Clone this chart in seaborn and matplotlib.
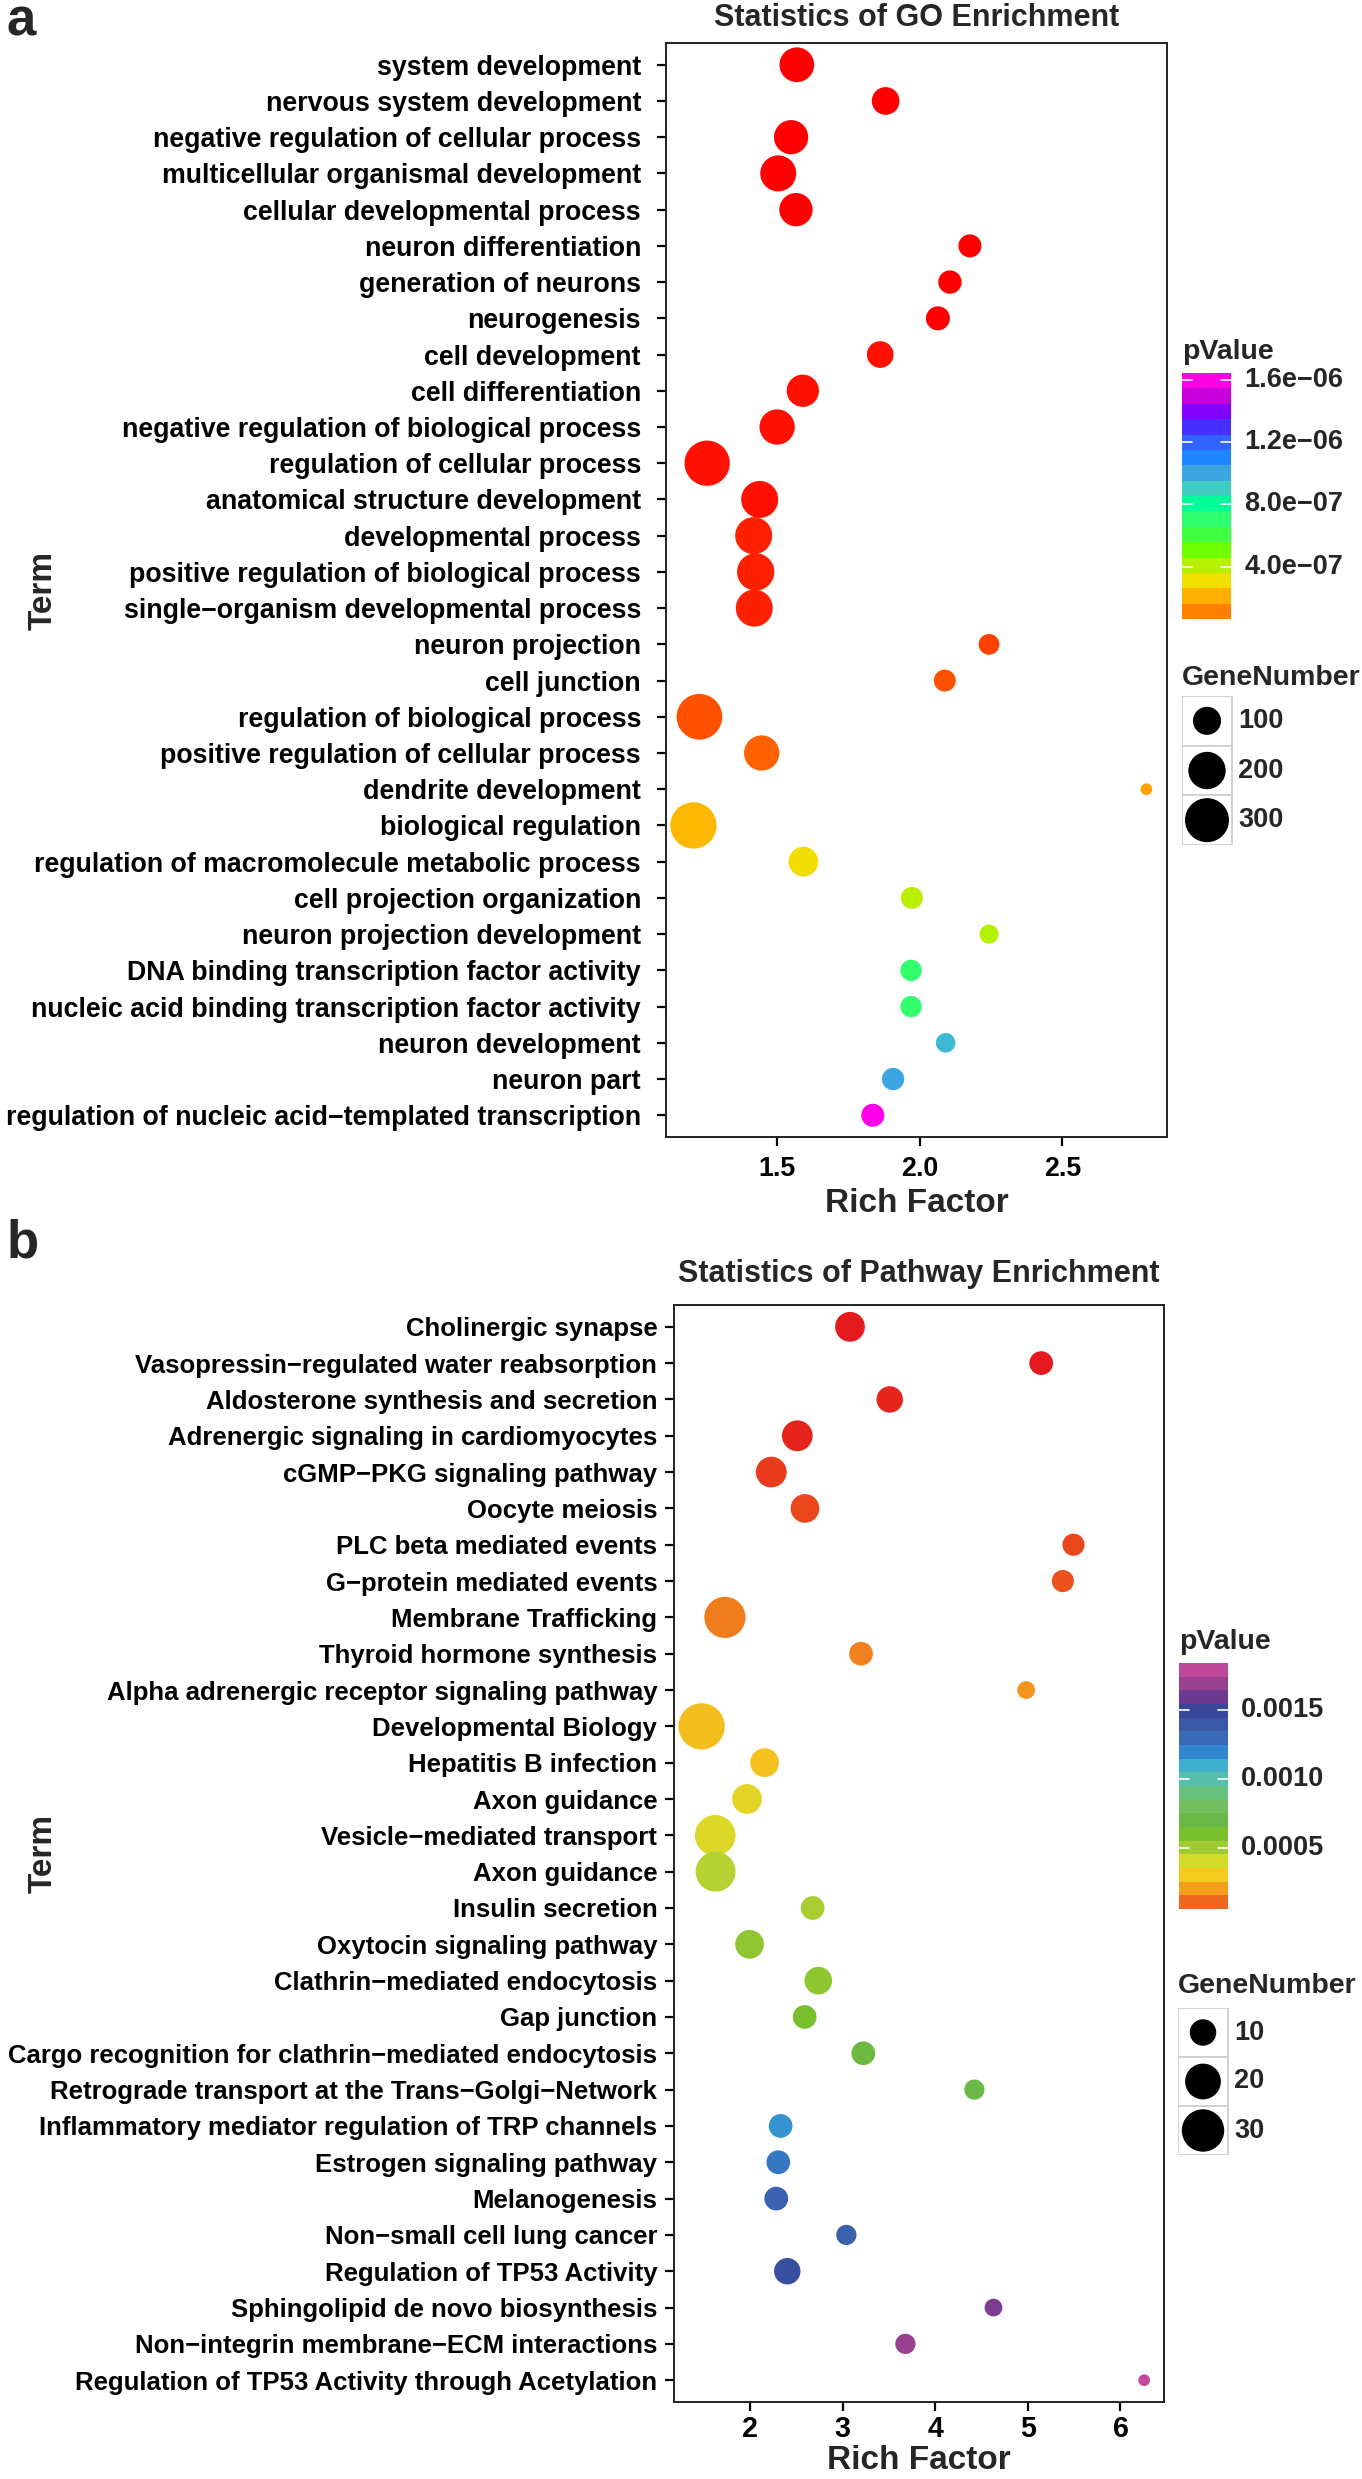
import numpy as np
import pandas as pd
import matplotlib
matplotlib.use("Agg")
import matplotlib.pyplot as plt
import seaborn as sns
from matplotlib.colors import LinearSegmentedColormap
from matplotlib.patches import Rectangle

# GO enrichment (panel a), top to bottom
go_terms = ["system development", "nervous system development",
            "negative regulation of cellular process", "multicellular organismal development",
            "cellular developmental process", "neuron differentiation", "generation of neurons",
            "neurogenesis", "cell development", "cell differentiation",
            "negative regulation of biological process", "regulation of cellular process",
            "anatomical structure development", "developmental process",
            "positive regulation of biological process", "single−organism developmental process",
            "neuron projection", "cell junction", "regulation of biological process",
            "positive regulation of cellular process", "dendrite development",
            "biological regulation", "regulation of macromolecule metabolic process",
            "cell projection organization", "neuron projection development",
            "DNA binding transcription factor activity",
            "nucleic acid binding transcription factor activity", "neuron development",
            "neuron part", "regulation of nucleic acid−templated transcription"]
go_rich = [1.570, 1.881, 1.550, 1.505, 1.567, 2.176, 2.106, 2.064, 1.862, 1.591,
           1.501, 1.256, 1.440, 1.419, 1.426, 1.421, 2.243, 2.088, 1.229, 1.447,
           2.794, 1.208, 1.593, 1.973, 2.243, 1.970, 1.970, 2.091, 1.907, 1.836]
go_genes = [167, 97, 162, 183, 151, 64, 66, 70, 89, 140, 174, 321, 196, 196, 200,
            196, 52, 58, 328, 174, 31, 339, 114, 58, 45, 55, 55, 47, 60, 64]
go_pvalue = [6.40e-08, 6.45e-08, 6.56e-08, 6.72e-08, 6.75e-08, 6.70e-08, 6.87e-08,
             6.90e-08, 7.03e-08, 7.05e-08, 7.19e-08, 7.20e-08, 7.51e-08, 7.66e-08,
             7.67e-08, 7.82e-08, 9.09e-08, 9.72e-08, 9.88e-08, 1.04e-07, 1.83e-07,
             2.35e-07, 3.11e-07, 4.01e-07, 4.10e-07, 6.96e-07, 6.97e-07, 9.64e-07,
             1.013e-06, 1.645e-06]

# pathway enrichment (panel b), top to bottom
kegg_terms = ["Cholinergic synapse", "Vasopressin−regulated water reabsorption",
              "Aldosterone synthesis and secretion", "Adrenergic signaling in cardiomyocytes",
              "cGMP−PKG signaling pathway", "Oocyte meiosis", "PLC beta mediated events",
              "G−protein mediated events", "Membrane Trafficking", "Thyroid hormone synthesis",
              "Alpha adrenergic receptor signaling pathway", "Developmental Biology",
              "Hepatitis B infection", "Axon guidance", "Vesicle−mediated transport",
              "Axon guidance", "Insulin secretion", "Oxytocin signaling pathway",
              "Clathrin−mediated endocytosis", "Gap junction",
              "Cargo recognition for clathrin−mediated endocytosis",
              "Retrograde transport at the Trans−Golgi−Network",
              "Inflammatory mediator regulation of TRP channels",
              "Estrogen signaling pathway", "Melanogenesis", "Non−small cell lung cancer",
              "Regulation of TP53 Activity", "Sphingolipid de novo biosynthesis",
              "Non−integrin membrane−ECM interactions",
              "Regulation of TP53 Activity through Acetylation"]
kegg_rich = [3.080, 5.144, 3.509, 2.511, 2.230, 2.594, 5.493, 5.378, 1.730, 3.199,
             4.982, 1.478, 2.158, 1.968, 1.625, 1.629, 2.677, 1.996, 2.738, 2.591,
             3.224, 4.423, 2.331, 2.306, 2.284, 3.041, 2.403, 4.629, 3.678, 6.256]
kegg_genes = [13, 8, 10, 14, 14, 12, 7, 7, 28, 8, 5, 37, 12, 13, 27, 26, 8, 12, 11, 8,
              8, 6, 8, 8, 8, 6, 10, 5, 6, 4]
kegg_pvalue = [6.16e-05, 6.20e-05, 6.87e-05, 7.23e-05, 8.65e-05, 9.01e-05, 9.19e-05,
               9.72e-05, 1.47e-04, 1.56e-04, 1.92e-04, 2.81e-04, 2.90e-04, 3.61e-04,
               3.79e-04, 4.68e-04, 4.95e-04, 5.48e-04, 5.57e-04, 6.10e-04, 6.82e-04,
               7.00e-04, 1.172e-03, 1.252e-03, 1.341e-03, 1.359e-03, 1.448e-03,
               1.626e-03, 1.692e-03, 1.84e-03]

go_colors = [(0.000, "#FF0000"), (0.031, "#FF8000"), (0.094, "#FFB000"), (0.156, "#F0E000"),
             (0.219, "#B5F000"), (0.281, "#70FF00"), (0.344, "#40FF40"), (0.406, "#30FF70"),
             (0.469, "#00FF99"), (0.531, "#40D0C0"), (0.594, "#3FA8E0"), (0.656, "#1E88FF"),
             (0.719, "#3366FF"), (0.781, "#4433FF"), (0.844, "#8000FF"), (0.906, "#C800DC"),
             (0.969, "#FF00E0"), (1.000, "#FF00E8")]
kegg_colors = [(0.000, "#E41A1C"), (0.028, "#EE6A1E"), (0.083, "#F4A01C"), (0.139, "#F5CC20"),
               (0.194, "#D2DC2C"), (0.250, "#A2CC34"), (0.306, "#7AC02C"), (0.361, "#6AB848"),
               (0.417, "#74C060"), (0.472, "#68C080"), (0.528, "#58C0A8"), (0.583, "#40B0D0"),
               (0.639, "#3088D0"), (0.694, "#3A6AB8"), (0.750, "#3A5AA8"), (0.806, "#38479A"),
               (0.861, "#6A3A90"), (0.917, "#9A4090"), (0.972, "#C0489A"), (1.000, "#C24A9C")]

W, H = 1362, 2479
PT = 0.72  # points per pixel at dpi 100

sns.set_style("white")
plt.rcParams["font.family"] = ["Liberation Sans", "DejaVu Sans"]
plt.rcParams["font.weight"] = "bold"

fig = plt.figure(figsize=(W / 100, H / 100), dpi=100)


def rect(x0, y0, x1, y1):
    return [x0 / W, 1 - y1 / H, (x1 - x0) / W, (y1 - y0) / H]


def diam(n, nmin, nmax):
    # ggplot-like area scale, diameter in pixels
    return 11.7 + 34.6 * np.sqrt((np.asarray(n, float) - nmin) / (nmax - nmin))


def panel(box, terms, rich, genes, pvals, cmap_list, xlim, xticks, xtlabels,
          fs_ytick, fs_xtick, ypad, xpad, title, title_base, xlab_base, letter, letter_base,
          cbar, cbar_ticks, cbar_labels, nbands, size_box, size_vals):
    x0, y0, x1, y1 = box
    ax = fig.add_axes(rect(*box))
    cmap = LinearSegmentedColormap.from_list("pv", cmap_list)
    nmin, nmax = min(genes), max(genes)
    df = pd.DataFrame({"Term": terms, "RichFactor": rich, "GeneNumber": genes,
                       "pValue": pvals, "pos": np.arange(len(terms))})
    df["area"] = (diam(df["GeneNumber"], nmin, nmax) * PT) ** 2
    vmin, vmax = min(pvals), max(pvals)
    amin, amax = df["area"].min(), df["area"].max()
    sns.scatterplot(data=df, x="RichFactor", y="pos", hue="pValue", palette=cmap,
                    hue_norm=(vmin, vmax), size="area", sizes=(amin, amax),
                    size_norm=(amin, amax), linewidth=0, legend=False, ax=ax, zorder=3)
    ax.set_xlim(*xlim)
    ax.set_ylim(len(terms) - 0.4, -0.6)
    ax.set_yticks(df["pos"])
    ax.set_yticklabels(terms)
    ax.set_xticks(xticks)
    ax.set_xticklabels(xtlabels)
    ax.set_xlabel("")
    ax.set_ylabel("")
    for s in ax.spines.values():
        s.set_visible(True)
        s.set_color("#222222")
        s.set_linewidth(1.4)
    ax.tick_params(axis="y", direction="out", length=6.5, width=1.6, color="black",
                   labelsize=fs_ytick, pad=ypad, left=True)
    ax.tick_params(axis="x", direction="out", length=6.5, width=1.6, color="black",
                   labelsize=fs_xtick, pad=xpad, bottom=True)
    for lab in ax.get_xticklabels() + ax.get_yticklabels():
        lab.set_fontweight("bold")
        lab.set_color("black")

    cx = (x0 + x1) / 2
    fig.text(cx / W, 1 - title_base / H, title, ha="center", va="baseline",
             fontsize=22, fontweight="bold")
    fig.text(cx / W, 1 - xlab_base / H, "Rich Factor", ha="center", va="baseline",
             fontsize=24, fontweight="bold")
    fig.text(43 / W, 1 - ((y0 + y1) / 2) / H, "Term", ha="center", va="center",
             rotation=90, fontsize=24, fontweight="bold")
    fig.text(7 / W, 1 - letter_base / H, letter, ha="left", va="baseline",
             fontsize=38, fontweight="bold")

    # colour bar
    bx0, by0, bx1, by1 = cbar
    cax = fig.add_axes(rect(bx0, by0, bx1, by1))
    edges = np.linspace(vmin, vmax, nbands + 1)
    centers = (edges[:-1] + edges[1:]) / 2
    band_cols = cmap((centers - vmin) / (vmax - vmin))
    cax.imshow(band_cols[:, None, :], aspect="auto", origin="lower",
               extent=(0, 1, vmin, vmax), interpolation="nearest")
    for t, lab in zip(cbar_ticks, cbar_labels):
        cax.plot([0, 0.2], [t, t], color="white", lw=1.2)
        cax.plot([0.8, 1], [t, t], color="white", lw=1.2)
        cax.text(1.27, t, lab, ha="left", va="center", fontsize=19.5,
                 fontweight="bold", transform=cax.get_yaxis_transform())
    cax.set_xlim(0, 1)
    cax.set_ylim(vmin, vmax)
    cax.axis("off")
    fig.text(bx0 / W, 1 - (by0 - 14) / H, "pValue", ha="left", va="baseline",
             fontsize=20.5, fontweight="bold")

    # size legend
    sx0, sy0, sx1, sy1, title_y = size_box
    lax = fig.add_axes(rect(sx0, sy0, sx1 + 80, sy1))
    lax.set_xlim(0, sx1 + 80 - sx0)
    lax.set_ylim(sy1 - sy0, 0)
    lax.axis("off")
    kh = (sy1 - sy0) / len(size_vals)
    kw = sx1 - sx0
    d = diam(size_vals, nmin, nmax)
    for i, v in enumerate(size_vals):
        lax.add_patch(Rectangle((0, i * kh), kw, kh, facecolor="white",
                                edgecolor="#CFCFCF", lw=1.3))
        lax.text(kw + 6, (i + 0.5) * kh, str(v), ha="left", va="center",
                 fontsize=19.5, fontweight="bold")
    lax.scatter([kw / 2] * len(size_vals), (np.arange(len(size_vals)) + 0.5) * kh,
                s=(d * PT) ** 2, color="black", linewidth=0, zorder=3)
    fig.text(sx0 / W, 1 - title_y / H, "GeneNumber", ha="left", va="baseline",
             fontsize=20.5, fontweight="bold")
    return ax


go_ticks = [4e-7, 8e-7, 1.2e-6, 1.6e-6]
kegg_ticks = [5e-4, 1e-3, 1.5e-3]

panel((666, 43, 1167, 1137), go_terms, go_rich, go_genes, go_pvalue, go_colors,
      (1.112, 2.866), [1.5, 2.0, 2.5], ["1.5", "2.0", "2.5"], 19.3, 19.3, 11.5, 7.5,
      "Statistics of GO Enrichment", 26, 1212, "a", 36,
      (1182, 373, 1231, 619), go_ticks,
      [f"{t:.1e}".replace("-", "−") for t in go_ticks], 16,
      (1182, 696, 1232, 845, 685), [100, 200, 300])

panel((674, 1305, 1164, 2402), kegg_terms, kegg_rich, kegg_genes, kegg_pvalue, kegg_colors,
      (1.18, 6.47), [2, 3, 4, 5, 6], ["2", "3", "4", "5", "6"], 18.5, 20.7, 5.5, 3.0,
      "Statistics of Pathway Enrichment", 1282, 2469, "b", 1258,
      (1179, 1663, 1228, 1909), kegg_ticks, [f"{t:.4f}" for t in kegg_ticks], 18,
      (1178, 2008, 1228, 2155, 1993), [10, 20, 30])

fig.savefig("out.png", dpi=100, facecolor="white")
